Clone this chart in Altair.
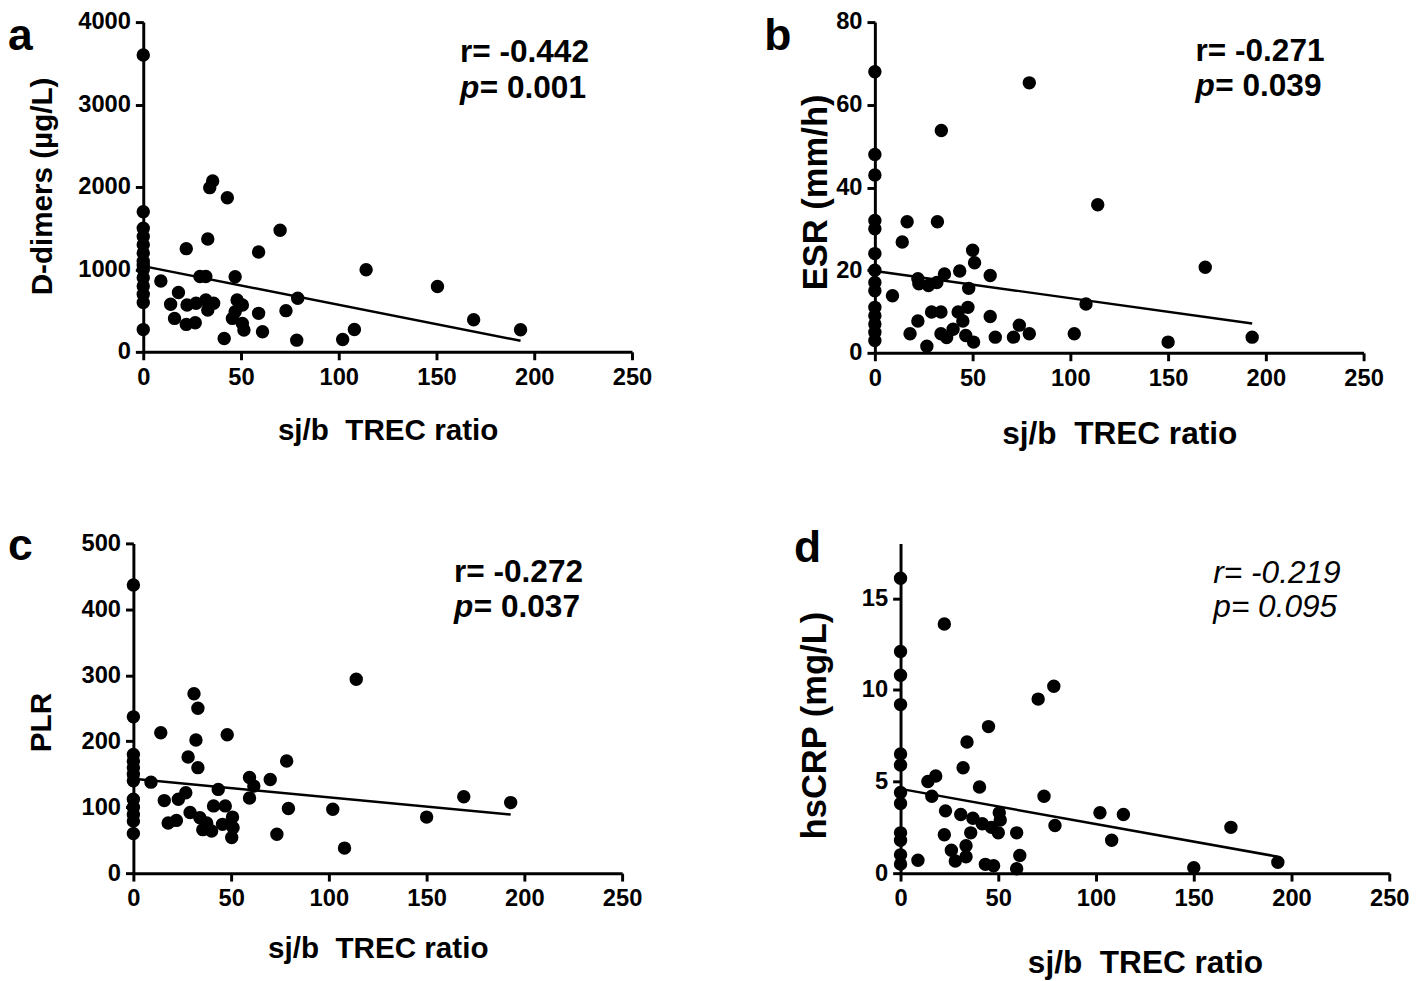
import altair as alt
import pandas as pd

FONT = "Liberation Sans"

# ---------------- data ----------------
# a: D-dimers
a_x = [0, 0, 0, 0, 0, 0, 0, 0, 0, 0, 0, 0, 0, 0,
       9, 18, 14, 16, 22, 22.4, 22, 26.6, 27, 29, 32, 32, 33, 36, 33, 34, 35.5, 43,
       47, 48, 50.7, 45.6, 47, 50.7, 51.5, 41.4, 59, 59, 61, 70, 73, 79, 78.5,
       102, 108, 114, 150.5, 169, 193]
a_y = [3600, 1700, 1500, 1400, 1300, 1200, 1100, 1050, 1000, 900, 800, 700, 600, 270,
       860, 720, 577, 406, 1252, 569, 333, 354, 589, 915, 915, 630, 508, 589, 1370, 1992, 2073, 1870,
       911, 630, 569, 406, 488, 345, 264, 162, 1211, 467, 244, 1476, 500, 650, 142,
       150, 272, 996, 793, 390, 268]
a_fit_x = [0, 193]
a_fit_y = [1040, 135]

# b: ESR
b_x = [0, 0, 0, 0, 0, 0, 0, 0, 0, 0, 0, 0, 0, 0,
       9, 14, 16.5, 18, 22, 22, 22.5, 26.6, 27.4, 29, 31.7, 33.8, 32, 34, 33.8, 35.6, 36.7,
       40, 43.4, 42.6, 45, 47.6, 48, 46.5, 50, 51, 50.5, 59, 59, 61.6, 70.9, 73.9, 79, 79,
       102, 108, 114, 150, 169, 193]
b_y = [68, 48, 43, 32, 30, 24, 20, 17, 15, 11, 9, 7, 5, 3,
       13.8, 26.8, 31.7, 4.6, 7.7, 17.9, 16.7, 1.6, 16.3, 9.9, 17, 9.9, 31.7, 53.8, 4.6, 19.1, 3.7,
       5.7, 19.8, 9.9, 7.7, 11, 15.6, 4.2, 24.8, 21.8, 2.6, 18.7, 8.8, 3.8, 3.8, 6.7, 65.3, 4.6,
       4.6, 11.8, 35.8, 2.6, 20.7, 3.8]
b_fit_x = [0, 193]
b_fit_y = [19.8, 7.1]

# c: PLR
c_x = [0, 0, 0, 0, 0, 0, 0, 0, 0, 0, 0, 0,
       9, 14, 15.8, 17.8, 22, 23, 26.8, 28, 29, 31, 33, 32, 33, 34, 35.5, 37.5, 40, 41,
       43.4, 45.6, 47, 48, 50.7, 51, 50.3, 59.4, 61.6, 59.4, 70, 73.4, 78.4, 79.3,
       102, 108, 114, 150, 169, 193]
c_y = [437, 237, 180, 170, 160, 150, 140, 112, 100, 89, 79, 60,
       138, 213, 110, 76, 80, 112, 122, 176, 92, 272, 250, 202, 160, 84, 66, 76, 64, 102,
       127, 74, 102, 210, 85, 69, 54, 145, 132, 114, 142, 59, 170, 98,
       97, 38, 294, 85, 116, 107]
c_fit_x = [0, 193]
c_fit_y = [143, 89]

# d: hsCRP
d_x = [0, 0, 0, 0, 0, 0, 0, 0, 0, 0, 0, 0,
       8.9, 14, 18, 16, 22.4, 23, 22.4, 26, 28, 30.8, 32, 34, 33.5, 33.5, 35.9, 37, 40.4,
       41.8, 45, 43.4, 47.6, 46.5, 50.5, 50, 51, 59.4, 61, 59.4, 70.4, 73.4, 78.4, 79,
       102, 108, 114, 150, 169, 193]
d_y = [16.1, 12.1, 10.8, 9.2, 6.5, 5.9, 4.4, 3.8, 2.2, 1.8, 1.0, 0.5,
       0.7, 5.0, 5.3, 4.2, 13.6, 3.4, 2.1, 1.25, 0.66, 3.2, 5.75, 7.16, 1.5, 0.9, 2.2, 3.0, 4.7,
       2.7, 8.0, 0.48, 0.4, 2.5, 3.3, 2.2, 2.9, 2.2, 0.97, 0.24, 9.5, 4.2, 10.2, 2.6,
       3.3, 1.8, 3.2, 0.3, 2.5, 0.6]
d_fit_x = [0, 193]
d_fit_y = [4.6, 0.9]

x_title = "sj/b\u00a0 TREC ratio"
x_ticks = [0, 50, 100, 150, 200, 250]

ANN_FS = 32
PW = 495  # plotted x-range length in px


def panel(letter, xs, ys, fx, fy, ymax, yticks, ytitle, r_txt, p_val, ann_x, ann_ry, ann_py,
          italic, letter_dx, letter_dy, ytitle_off, ytitle_y, xtitle_off, height,
          inset=0, ytitle_fs=30, xtitle_fs=30):
    W = PW + inset
    xenc = alt.X("x:Q", scale=alt.Scale(domain=[0, 250], nice=False, zero=False,
                                        range=[inset, W]),
                 axis=alt.Axis(values=x_ticks, format="d", title=x_title, grid=False,
                               domainWidth=3, domainColor="black", tickWidth=3,
                               tickColor="black", tickSize=8, labelFont=FONT,
                               labelFontSize=24, labelFontWeight="bold", labelColor="black",
                               labelPadding=6, labelFlush=False, labelOverlap=False,
                               titleFont=FONT, titleFontSize=xtitle_fs, titleFontWeight="bold",
                               titleColor="black", titleBaseline="middle",
                               titleY=xtitle_off, titleX=inset + PW / 2))
    yenc = alt.Y("y:Q", scale=alt.Scale(domain=[0, ymax], nice=False, zero=True),
                 axis=alt.Axis(values=yticks, format="d", title=ytitle, grid=False,
                               offset=-inset,
                               domainWidth=3, domainColor="black", tickWidth=3,
                               tickColor="black", tickSize=8, labelFont=FONT,
                               labelFontSize=24, labelFontWeight="bold", labelColor="black",
                               labelPadding=5, labelFlush=False, labelOverlap=False,
                               titleFont=FONT, titleFontSize=ytitle_fs, titleFontWeight="bold",
                               titleColor="black", titleBaseline="middle",
                               titleX=-ytitle_off, titleY=ytitle_y, titleAngle=-90))
    pts = alt.Chart(pd.DataFrame({"x": xs, "y": ys})).mark_circle(
        size=185, color="black", opacity=1).encode(x=xenc, y=yenc)
    fit = alt.Chart(pd.DataFrame({"x": fx, "y": fy})).mark_line(
        color="black", strokeWidth=2.5).encode(x=xenc, y=yenc)
    style = "italic" if italic else "normal"
    weight = "normal" if italic else "bold"
    r_layer = alt.Chart(pd.DataFrame({"x": [ann_x], "y": [ann_ry], "t": [r_txt]})).mark_text(
        align="left", baseline="middle", font=FONT, fontSize=ANN_FS, fontWeight=weight,
        fontStyle=style, color="black").encode(x=xenc, y=yenc, text="t:N")
    layers = [pts, fit, r_layer]
    if italic:
        p_layer = alt.Chart(pd.DataFrame({"x": [ann_x], "y": [ann_py], "t": ["p= " + p_val]})).mark_text(
            align="left", baseline="middle", font=FONT, fontSize=ANN_FS, fontWeight="normal",
            fontStyle="italic", color="black").encode(x=xenc, y=yenc, text="t:N")
        layers.append(p_layer)
    else:
        p1 = alt.Chart(pd.DataFrame({"x": [ann_x], "y": [ann_py], "t": ["p"]})).mark_text(
            align="left", baseline="middle", font=FONT, fontSize=ANN_FS, fontWeight="bold",
            fontStyle="italic", color="black").encode(x=xenc, y=yenc, text="t:N")
        p2 = alt.Chart(pd.DataFrame({"x": [ann_x], "y": [ann_py], "t": ["= " + p_val]})).mark_text(
            align="left", baseline="middle", font=FONT, fontSize=ANN_FS, fontWeight="bold",
            dx=20, color="black").encode(x=xenc, y=yenc, text="t:N")
        layers += [p1, p2]
    let = alt.Chart(pd.DataFrame({"t": [letter]})).mark_text(
        align="left", baseline="alphabetic", font=FONT, fontSize=45, fontWeight="bold",
        color="black").encode(x=alt.value(letter_dx), y=alt.value(letter_dy), text="t:N")
    layers.append(let)
    return alt.layer(*layers).properties(width=W, height=height)


pa = panel("a", a_x, a_y, a_fit_x, a_fit_y, 4000, [0, 1000, 2000, 3000, 4000],
           "D-dimers (\u00b5g/L)", "r= -0.442", "0.001", 162, 3634, 3195, False,
           -127, 28, 102, 166, 80, 334, inset=10)
pb = panel("b", b_x, b_y, b_fit_x, b_fit_y, 80, [0, 20, 40, 60, 80],
           "ESR (mm/h)", "r= -0.271", "0.039", 164, 73, 64.4, False,
           -112, 28, 60, 172, 82, 335, ytitle_fs=35, xtitle_fs=32)
pc = panel("c", c_x, c_y, c_fit_x, c_fit_y, 500, [0, 100, 200, 300, 400, 500],
           "PLR", "r= -0.272", "0.037", 164, 456, 403, False,
           -127, 17, 93, 181, 76, 334)
pd_ = panel("d", d_x, d_y, d_fit_x, d_fit_y, 18, [0, 5, 10, 15],
            "hsCRP (mg/L)", "r= -0.219", "0.095", 160, 16.4, 14.5, True,
            -108, 19, 87, 184, 91, 334, ytitle_fs=35, xtitle_fs=32)

row1 = alt.hconcat(pa, pb, spacing=113)
row2 = alt.hconcat(pc, pd_, spacing=153)
chart = alt.concat(row1, row2, columns=1, align="none", spacing=76).properties(
    padding={"left": 0, "top": -4, "right": 0, "bottom": 0}, background="white"
).configure_view(stroke=None)

chart.save("out.html", embed_options={"renderer": "svg", "actions": False})
